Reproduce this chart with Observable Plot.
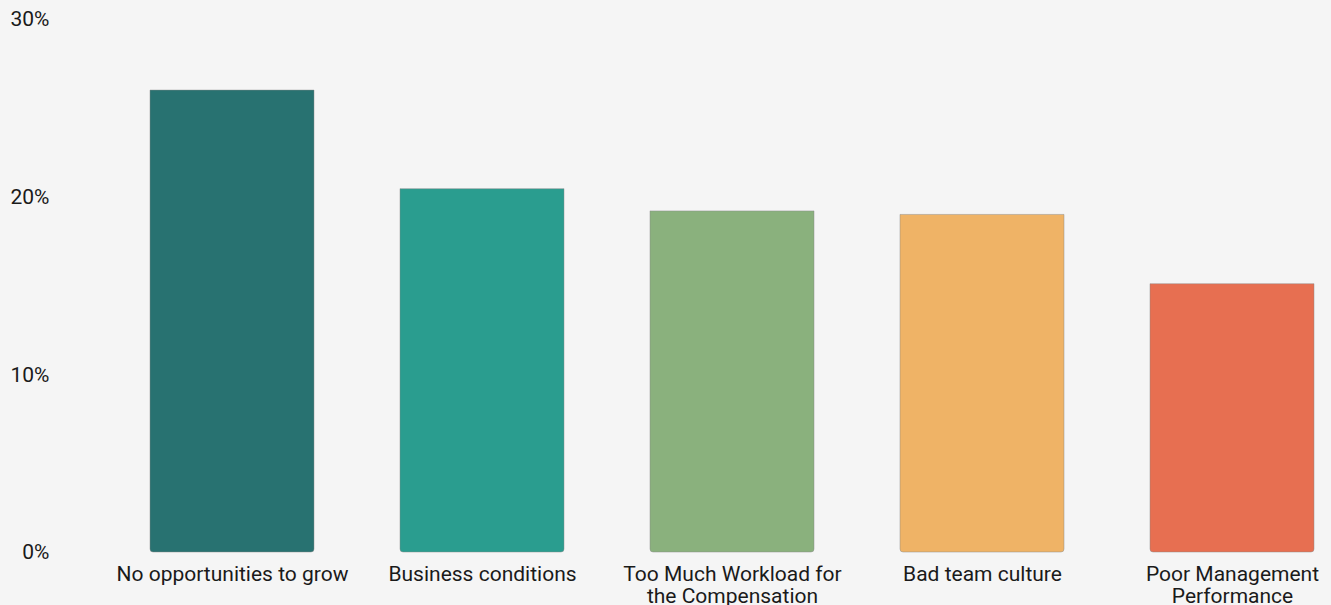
<!DOCTYPE html>
<html>
<head>
<meta charset="utf-8">
<script src="https://cdn.jsdelivr.net/npm/d3@7"></script>
<script src="https://cdn.jsdelivr.net/npm/@observablehq/plot@0.6"></script>
<style>
  html, body { margin: 0; padding: 0; background: #f5f5f5; }
  #chart svg { display: block; }
</style>
</head>
<body>
<div id="chart"></div>
<script>
const categories = [
  "No opportunities to grow",
  "Business conditions",
  "Too Much Workload for the Compensation",
  "Bad team culture",
  "Poor Management Performance"
];
const tickLabels = {
  "No opportunities to grow": "No opportunities to grow",
  "Business conditions": "Business conditions",
  "Too Much Workload for the Compensation": "Too Much Workload for\nthe Compensation",
  "Bad team culture": "Bad team culture",
  "Poor Management Performance": "Poor Management\nPerformance"
};
const values = [26.0, 20.45, 19.2, 19.0, 15.1];
const colors = ["#287271", "#2a9d8f", "#8ab17d", "#efb366", "#e76f51"];
const yTicks = [0, 10, 20, 30];

const data = categories.map((c, i) => ({category: c, value: values[i]}));

const chart = Plot.plot({
  width: 1331,
  height: 605,
  marginTop: 19,
  marginBottom: 53,
  marginLeft: 50,
  marginRight: 15,
  style: {background: "#f5f5f5", fontFamily: "Roboto, sans-serif", fontSize: "21px", color: "#1a1a1a"},
  x: {domain: categories, range: [148, 1316], paddingInner: 0.345, paddingOuter: 0, label: null},
  y: {domain: [0, 30], label: null},
  color: {domain: categories, range: colors},
  marks: [
    Plot.barY(data, {x: "category", y: "value", fill: "category", stroke: "#888", strokeOpacity: 0.45, strokeWidth: 1, ry2: 3}),
    Plot.axisY({ticks: yTicks, tickSize: 0, tickPadding: 1, tickFormat: d => d + "%", label: null, fill: "#1a1a1a"}),
    Plot.axisX({tickSize: 0, tickPadding: 13, tickFormat: d => tickLabels[d], label: null, fill: "#1a1a1a", lineHeight: 1.05})
  ]
});
document.getElementById("chart").appendChild(chart);
</script>
</body>
</html>
